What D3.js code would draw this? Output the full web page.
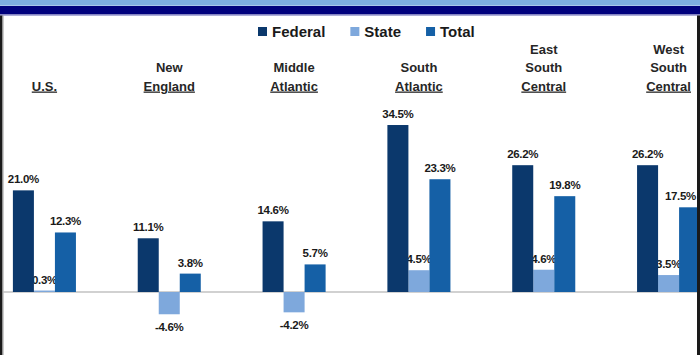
<!DOCTYPE html>
<html>
<head>
<meta charset="utf-8">
<script src="https://cdn.jsdelivr.net/npm/d3@7"></script>
<style>
  html, body { margin: 0; padding: 0; background: #ffffff; }
  svg { display: block; }
</style>
</head>
<body>
<div id="chart"></div>
<script>
const categories = ["U.S.", "New England", "Middle Atlantic", "South Atlantic", "East South Central", "West South Central"];
const seriesNames = ["Federal", "State", "Total"];
const federal = [21.0, 11.1, 14.6, 34.5, 26.2, 26.2];
const state = [0.3, -4.6, -4.2, 4.5, 4.6, 3.5];
const total = [12.3, 3.8, 5.7, 23.3, 19.8, 17.5];
const seriesValues = [federal, state, total];
const colors = ["#0b386c", "#7ea8dc", "#1560a6"];

const W = 700, H = 355;
const RIGHT = 697;
const svg = d3.select("#chart").append("svg").attr("width", W).attr("height", H);

// frame
svg.append("rect").attr("x", 0).attr("y", 0).attr("width", W).attr("height", 5).attr("fill", "#7eade0");
svg.append("rect").attr("x", 0).attr("y", 5).attr("width", W).attr("height", 1).attr("fill", "#a9c6ea");
svg.append("rect").attr("x", 0).attr("y", 6).attr("width", W).attr("height", 8.5).attr("fill", "#00007c");
svg.append("rect").attr("x", 0).attr("y", 14.5).attr("width", W).attr("height", 1.2).attr("fill", "#8a8ac8");
svg.append("rect").attr("x", 0).attr("y", 15.5).attr("width", 2.5).attr("height", H - 15.5).attr("fill", "#1a1a1a");
svg.append("rect").attr("x", 2.5).attr("y", 15.5).attr("width", 1).attr("height", H - 15.5).attr("fill", "#9a9a9a");
svg.append("rect").attr("x", RIGHT).attr("y", 15.5).attr("width", 3).attr("height", H - 15.5).attr("fill", "#1a1a1a");

svg.append("clipPath").attr("id", "plotclip")
  .append("rect").attr("x", 3.5).attr("y", 16).attr("width", RIGHT - 3.5).attr("height", H - 16);

const plot = svg.append("g").attr("clip-path", "url(#plotclip)");

const x = d3.scaleBand().domain(categories).range([-18, 731]).paddingInner(0.495).paddingOuter(0.2475);
const xs = d3.scaleBand().domain(seriesNames).range([0, x.bandwidth()]).padding(0);
const y = d3.scaleLinear().domain([-10, 40]).range([340.4, 98.4]);

// zero line
plot.append("line")
  .attr("x1", 3).attr("x2", RIGHT)
  .attr("y1", y(0)).attr("y2", y(0))
  .attr("stroke", "#a3a3a3").attr("stroke-width", 1.2);

function clampX(sel) {
  sel.each(function() {
    const t = d3.select(this);
    const w = this.getComputedTextLength();
    const cx = +t.attr("x");
    if (cx + w / 2 > RIGHT - 1) t.attr("x", RIGHT - 1 - w / 2);
  });
}

function drawBars(si) {
  const vals = seriesValues[si];
  plot.append("g").selectAll("rect").data(categories).join("rect")
    .attr("x", c => x(c) + xs(seriesNames[si]))
    .attr("width", xs.bandwidth())
    .attr("y", (c, i) => y(Math.max(0, vals[i])))
    .attr("height", (c, i) => Math.abs(y(vals[i]) - y(0)))
    .attr("fill", colors[si]);
}
function drawLabels(si) {
  const vals = seriesValues[si];
  plot.append("g").selectAll("text").data(categories).join("text")
    .attr("x", c => x(c) + xs(seriesNames[si]) + xs.bandwidth() / 2)
    .attr("y", (c, i) => vals[i] >= 0 ? y(vals[i]) - 7 : y(vals[i]) + 17)
    .attr("text-anchor", "middle")
    .attr("font-family", "'Liberation Sans', Arial, sans-serif")
    .attr("font-weight", "bold")
    .attr("font-size", "11.5px")
    .attr("letter-spacing", "-0.3px")
    .attr("fill", "#1a1a1a")
    .text((c, i) => vals[i].toFixed(1) + "%")
    .call(clampX);
}

drawBars(1);
drawLabels(1);
drawBars(0);
drawBars(2);
drawLabels(0);
drawLabels(2);

// category labels
const lastBaseline = 90.5, lineH = 18.5;
categories.forEach(c => {
  const lines = c.split(" ");
  const g = plot.append("g");
  lines.forEach((ln, k) => {
    g.append("text")
      .attr("x", x(c) + x.bandwidth() / 2)
      .attr("y", lastBaseline - (lines.length - 1 - k) * lineH)
      .attr("text-anchor", "middle")
      .attr("font-family", "'Liberation Sans', Arial, sans-serif")
      .attr("font-weight", "bold")
      .attr("font-size", "13px")
      .attr("fill", "#262626")
      .attr("text-decoration", k === lines.length - 1 ? "underline" : "none")
      .text(ln)
      .call(clampX);
  });
});

// legend
const legend = svg.append("g");
let lx = 258;
seriesNames.forEach((s, i) => {
  legend.append("rect").attr("x", lx).attr("y", 27).attr("width", 9).attr("height", 9).attr("fill", colors[i]);
  const t = legend.append("text")
    .attr("x", lx + 14).attr("y", 37)
    .attr("font-family", "'Liberation Sans', Arial, sans-serif")
    .attr("font-weight", "bold")
    .attr("font-size", "15px")
    .attr("fill", "#1a1a1a")
    .text(s);
  lx = lx + 14 + t.node().getComputedTextLength() + 25;
});
</script>
</body>
</html>
